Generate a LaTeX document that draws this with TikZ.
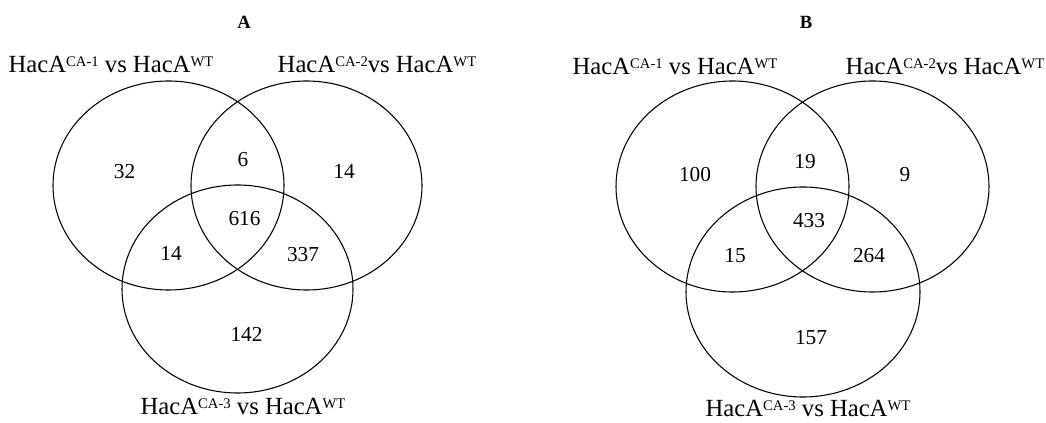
\documentclass[tikz,border=0pt]{standalone}
\usepackage{fontspec}
\setmainfont{Liberation Serif}
\usepackage{tikz}
\usetikzlibrary{shapes.geometric}

\newcommand{\supx}[1]{\raisebox{5pt}{\fontsize{11}{11}\selectfont #1}}

\begin{document}
\begin{tikzpicture}[x=0.75pt, y=-0.75pt,
    vset/.style={ellipse, draw, line width=0.8pt, inner sep=0pt},
    setlabel/.style={anchor=base, inner sep=0pt, font=\fontsize{18.5}{20}\selectfont},
    count/.style={anchor=base, inner sep=0pt, font=\fontsize{16}{18}\selectfont},
    paneltitle/.style={anchor=base, inner sep=0pt, font=\fontsize{14}{16}\selectfont\bfseries}
  ]
    \useasboundingbox (0,0) rectangle (1046,423);

    % Panel A
    \node[paneltitle] (titleA) at (244,29) {A};

    \node[vset, minimum width=173.25pt, minimum height=156.75pt] (a1) at (168.5,185.5) {};
    \node[vset, minimum width=173.25pt, minimum height=156.75pt] (a2) at (306.5,185.5) {};
    \node[vset, minimum width=173.25pt, minimum height=156pt] (a3) at (237.5,289) {};

    \node[setlabel] (la1) at (111,73) {HacA\supx{CA-1} vs HacA\supx{WT}};
    \node[setlabel] (la2) at (377,73) {HacA\supx{CA-2}vs HacA\supx{WT}};
    \node[setlabel] (la3) at (243,415) {HacA\supx{CA-3} vs HacA\supx{WT}};

    \node[count] (a100) at (124.5,179) {32};
    \node[count] (a110) at (243,167) {6};
    \node[count] (a010) at (344,179) {14};
    \node[count] (a111) at (244.5,226) {616};
    \node[count] (a101) at (171,261) {14};
    \node[count] (a011) at (303,262) {337};
    \node[count] (a001) at (246.5,342) {142};

    % Panel B
    \node[paneltitle] (titleB) at (806,29) {B};

    \node[vset, minimum width=174.75pt, minimum height=158.25pt] (b1) at (732.5,186.5) {};
    \node[vset, minimum width=174.75pt, minimum height=158.25pt] (b2) at (872.5,186.5) {};
    \node[vset, minimum width=175.5pt, minimum height=157.5pt] (b3) at (803,292) {};

    \node[setlabel] (lb1) at (675,75) {HacA\supx{CA-1} vs HacA\supx{WT}};
    \node[setlabel] (lb2) at (945,75) {HacA\supx{CA-2}vs HacA\supx{WT}};
    \node[setlabel] (lb3) at (808,417) {HacA\supx{CA-3} vs HacA\supx{WT}};

    \node[count] (b100) at (695,182) {100};
    \node[count] (b110) at (805,169) {19};
    \node[count] (b010) at (905,182) {9};
    \node[count] (b111) at (809,228) {433};
    \node[count] (b101) at (735,263) {15};
    \node[count] (b011) at (869,263) {264};
    \node[count] (b001) at (811,345) {157};

  \end{tikzpicture}
\end{document}
